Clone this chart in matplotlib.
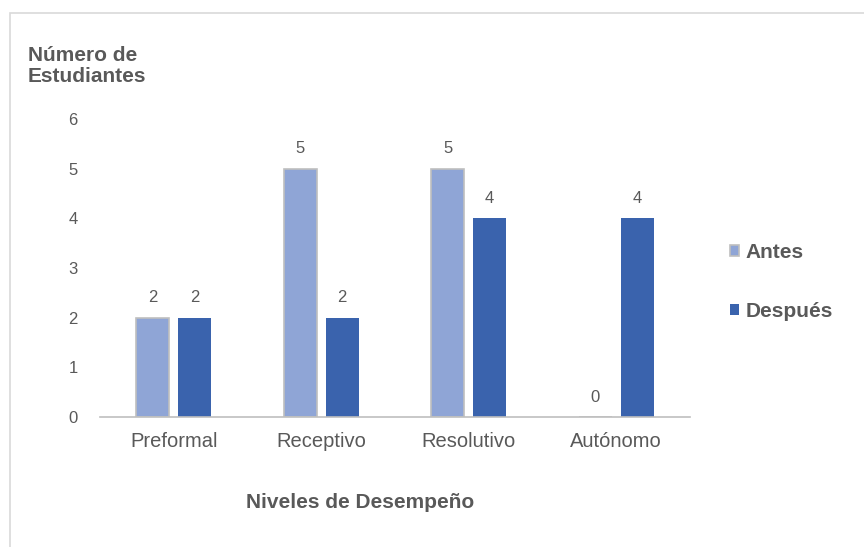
import numpy as np
import matplotlib
matplotlib.use("Agg")
from matplotlib import pyplot as plt
from matplotlib.patches import Rectangle

# data
categorias = ["Preformal", "Receptivo", "Resolutivo", "Autónomo"]
antes = [2, 5, 5, 0]
despues = [2, 2, 4, 4]
yticks = [0, 1, 2, 3, 4, 5, 6]

gris = "#595959"
plt.rcParams['font.family'] = ['Liberation Sans', 'DejaVu Sans']

fig = plt.figure(figsize=(8.64, 5.47), dpi=100)
ax = fig.add_axes([0.1157, 0.2377, 0.6829, 0.5447])

x = np.arange(len(categorias))
ancho = 0.224
b1 = ax.bar(x - 0.142, antes, ancho, color="#8FA5D6", edgecolor="#BFBFBF", linewidth=1.2, label="Antes")
b2 = ax.bar(x + 0.142, despues, ancho, color="#3A63AD", label="Después")

for barras in (b1, b2):
	for r in barras:
		h = r.get_height()
		ax.text(r.get_x() + r.get_width() / 2, h + 0.25, str(int(h)), ha="center", va="bottom",
			fontsize=12, color=gris)

ax.set_xlim(-0.5, len(categorias) - 0.5)
ax.set_ylim(0, 6)
ax.set_yticks(yticks)
ax.set_xticks(x)
ax.set_xticklabels(categorias, fontsize=14.5, color=gris)
ax.tick_params(axis="y", length=0, labelsize=12, labelcolor=gris, pad=16)
ax.tick_params(axis="x", length=0, pad=11)
for s in ["top", "right", "left"]:
	ax.spines[s].set_visible(False)
ax.spines["bottom"].set_color("#BFBFBF")
ax.spines["bottom"].set_linewidth(1.2)

fig.text(28 / 864, 1 - 46 / 547, "Número de\nEstudiantes", fontsize=15, fontweight="bold", color=gris,
	ha="left", va="top", linespacing=1.1)
fig.text(360 / 864, 1 - 502 / 547, "Niveles de Desempeño", fontsize=15, fontweight="bold", color=gris,
	ha="center", va="center")

leg = fig.legend(handles=[b1, b2], loc="center left", bbox_to_anchor=(711 / 864, 1 - 282 / 547),
	frameon=False, prop={"weight": "bold", "size": 15}, labelspacing=1.9,
	handlelength=0.45, handleheight=0.45, handletextpad=0.3)
for t in leg.get_texts():
	t.set_color(gris)

# borde del grafico
fig.patches.append(Rectangle((10 / 864, -0.05), 1.0, 1 - 13 / 547 + 0.05, transform=fig.transFigure,
	fill=False, edgecolor="#D9D9D9", linewidth=1.2))

fig.savefig("out.png", dpi=100)
